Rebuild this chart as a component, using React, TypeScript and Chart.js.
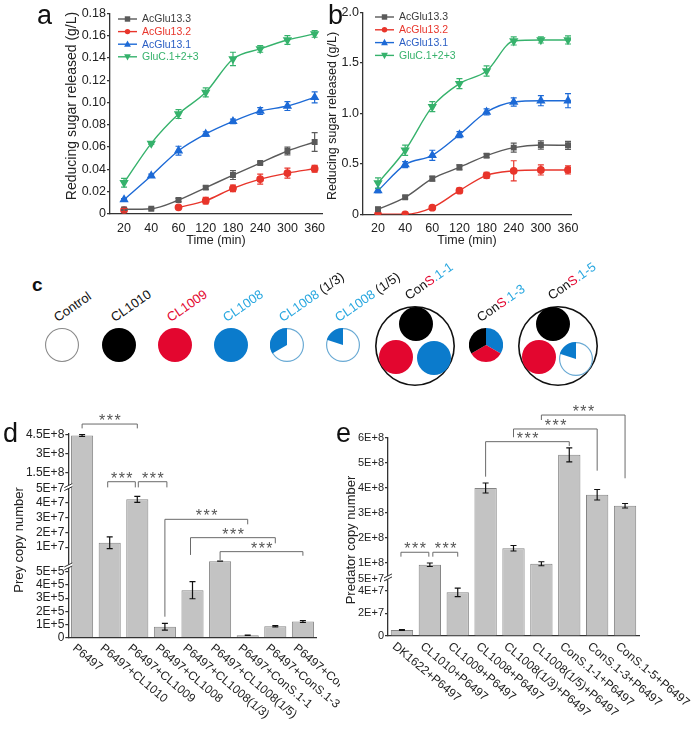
import React, { useEffect, useRef } from 'react';
import { Chart, registerables } from 'chart.js';
Chart.register(...registerables);

const FONT = 'Arial, "Liberation Sans", Helvetica, sans-serif';
Chart.defaults.font.family = FONT;
Chart.defaults.color = '#222';

// ================= Panels a / b =================
const timeLabels = ['20', '40', '60', '120', '180', '240', '300', '360'];
const seriesNames = ['AcGlu13.3', 'AcGlu13.2', 'AcGlu13.1', 'GluC.1+2+3'];

const aAcGlu133 = [0.0039, 0.0045, 0.0123, 0.0234, 0.0347, 0.0455, 0.0563, 0.0644];
const aAcGlu133Err = [0.001, 0.0008, 0.0015, 0.0015, 0.004, 0.001, 0.0035, 0.0085];
const aAcGlu132 = [0.0033, null, 0.0057, 0.0117, 0.0228, 0.0311, 0.0365, 0.0404];
const aAcGlu132Err = [0.0015, 0, 0.0008, 0.003, 0.003, 0.0045, 0.0045, 0.003];
const aAcGlu131 = [0.0126, 0.0341, 0.0566, 0.0716, 0.0829, 0.0922, 0.0967, 0.1045];
const aAcGlu131Err = [0.001, 0.0015, 0.004, 0.002, 0.002, 0.003, 0.004, 0.005];
const aGluC = [0.0278, 0.0632, 0.0895, 0.109, 0.139, 0.148, 0.156, 0.1615];
const aGluCErr = [0.004, 0.001, 0.004, 0.004, 0.006, 0.003, 0.004, 0.003];
const aYTicks = [0, 0.02, 0.04, 0.06, 0.08, 0.1, 0.12, 0.14, 0.16, 0.18];
const aYTickLabels = ['0', '0.02', '0.04', '0.06', '0.08', '0.10', '0.12', '0.14', '0.16', '0.18'];

const bAcGlu133 = [0.05, 0.168, 0.353, 0.465, 0.581, 0.66, 0.686, 0.683];
const bAcGlu133Err = [0.02, 0.015, 0.025, 0.025, 0.02, 0.045, 0.04, 0.04];
const bAcGlu132 = [0, 0, 0.066, 0.234, 0.386, 0.43, 0.439, 0.439];
const bAcGlu132Err = [0.01, 0.01, 0.01, 0.025, 0.03, 0.1, 0.05, 0.04];
const bAcGlu131 = [0.234, 0.492, 0.584, 0.789, 1.013, 1.112, 1.125, 1.125];
const bAcGlu131Err = [0.02, 0.03, 0.05, 0.03, 0.03, 0.04, 0.05, 0.07];
const bGluC = [0.31, 0.634, 1.066, 1.294, 1.419, 1.716, 1.726, 1.726];
const bGluCErr = [0.05, 0.05, 0.05, 0.05, 0.05, 0.04, 0.03, 0.04];
const bYTicks = [0, 0.5, 1.0, 1.5, 2.0];
const bYTickLabels = ['0', '0.5', '1.0', '1.5', '2.0'];

// ================= Panel d =================
const dLabels = ['P6497', 'P6497+CL1010', 'P6497+CL1009', 'P6497+CL1008', 'P6497+CL1008(1/3)', 'P6497+CL1008(1/5)', 'P6497+ConS.1-1', 'P6497+ConS.1-3', 'P6497+ConS.1-5'];
const dValues = [4.4e8, 1.3e7, 4.25e7, 8.3e4, 3.6e5, 5.1e5, 1.8e4, 8.6e4, 1.22e5];
const dErrors = [7e6, 4e6, 2e6, 2.5e4, 6.5e4, 4e3, 1.5e3, 5e3, 7e3];
const dTickValues = [0, 1e5, 2e5, 3e5, 4e5, 5e5, 1e7, 2e7, 3e7, 4e7, 5e7, 1.5e8, 3e8, 4.5e8];
const dTickLabels = ['0', '1E+5', '2E+5', '3E+5', '4E+5', '5E+5', '1E+7', '2E+7', '3E+7', '4E+7', '5E+7', '1.5E+8', '3E+8', '4.5E+8'];

// ================= Panel e =================
const eLabels = ['DK1622+P6497', 'CL1010+P6497', 'CL1009+P6497', 'CL1008+P6497', 'CL1008(1/3)+P6497', 'CL1008(1/5)+P6497', 'ConS.1-1+P6497', 'ConS.1-3+P6497', 'ConS.1-5+P6497'];
const eValues = [5.3e6, 9.3e7, 3.85e7, 4.0e8, 1.59e8, 9.7e7, 5.33e8, 3.73e8, 3.29e8];
const eErrors = [4e5, 7e6, 3.8e6, 2e7, 1.1e7, 8e6, 2.8e7, 2.1e7, 9e6];
const eTickValues = [0, 2e7, 4e7, 5e7, 1e8, 2e8, 3e8, 4e8, 5e8, 6e8];
const eTickLabels = ['0', '2E+7', '4E+7', '5E+7', '1E+8', '2E+8', '3E+8', '4E+8', '5E+8', '6E+8'];

// ================= Panel c =================
const sliceWhole = [1];
const sliceOneThird = [2, 1];
const sliceOneFifth = [4, 1];
const sliceThreeWay = [1, 1, 1];

type Seg = [number, number, number, number];
// broken axis segments: [valueLo, valueHi, unitLo, unitHi]
const dSegs: Seg[] = [[0, 5e5, 0, 5], [5e5, 5e7, 5.8, 11.32], [5e7, 4.5e8, 11.5, 15.41]];
const eSegs: Seg[] = [[0, 5e7, 0, 5], [5e7, 6e8, 5.34, 17.47]];

function toUnits(v: number, segs: Seg[]): number {
  for (const [lo, hi, u0, u1] of segs) {
    if (v <= hi) return u0 + ((v - lo) / (hi - lo)) * (u1 - u0);
  }
  const [lo, hi, u0, u1] = segs[segs.length - 1];
  return u0 + ((v - lo) / (hi - lo)) * (u1 - u0);
}

const C_RED = '#e3062f';
const C_BLUE = '#0b7bcc';
const C_CYAN = '#2aa8e0';
const C_OUT = '#6aaad4';
const NONE = 'rgba(0,0,0,0)';

const lineStyles = [
  { color: '#5a5a5a', text: '#3a3a3a', point: 'rect', radius: 3.2, rot: 0 },
  { color: '#e8352b', text: '#e8352b', point: 'circle', radius: 3.2, rot: 0 },
  { color: '#1d6ad6', text: '#2a5ec4', point: 'triangle', radius: 4, rot: 0 },
  { color: '#36b26c', text: '#36b26c', point: 'triangle', radius: 4, rot: 180 },
];

function drawMarker(ctx: CanvasRenderingContext2D, style: string, rot: number, x: number, y: number, r: number) {
  ctx.beginPath();
  if (style === 'rect') {
    ctx.rect(x - r, y - r, 2 * r, 2 * r);
  } else if (style === 'circle') {
    ctx.arc(x, y, r, 0, Math.PI * 2);
  } else {
    const s = rot === 180 ? -1 : 1;
    ctx.moveTo(x, y - s * r * 1.1);
    ctx.lineTo(x + r, y + s * r * 0.75);
    ctx.lineTo(x - r, y + s * r * 0.75);
    ctx.closePath();
  }
  ctx.fill();
}

function yTitlePlugin(t: { text: string; x: number; y: number; size: number }) {
  return {
    id: 'yTitle',
    afterDraw(chart: any) {
      const ctx = chart.ctx;
      ctx.save();
      ctx.translate(t.x, t.y);
      ctx.rotate(-Math.PI / 2);
      ctx.font = `${t.size}px ${FONT}`; ctx.fillStyle = '#222'; ctx.textAlign = 'center'; ctx.textBaseline = 'middle';
      ctx.fillText(t.text, 0, 0);
      ctx.restore();
    },
  };
}

function makeLineConfig(p: {
  series: (number | null)[][]; errors: number[][]; yTicks: number[]; yLabels: string[];
  yMax: number; xMin: number; xMax: number; W: number; H: number;
  area: { l: number; t: number; r: number; b: number };
  yTitle: { text: string; x: number; y: number; size: number };
  legend: { x: number; y: number; rowH: number; lineW: number };
}): any {
  const errorPlugin = {
    id: 'errLine',
    afterDatasetsDraw(chart: any) {
      const ctx = chart.ctx; const xs = chart.scales.x; const ys = chart.scales.y;
      ctx.save();
      p.series.forEach((vals, si) => {
        ctx.strokeStyle = lineStyles[si].color; ctx.lineWidth = 1.2;
        vals.forEach((v, i) => {
          if (v === null) return;
          const e = p.errors[si][i];
          const x = xs.getPixelForValue(i);
          const y1 = ys.getPixelForValue(v + e); const y2 = ys.getPixelForValue(Math.max(v - e, 0));
          ctx.beginPath();
          ctx.moveTo(x, y1); ctx.lineTo(x, y2);
          ctx.moveTo(x - 3, y1); ctx.lineTo(x + 3, y1);
          ctx.moveTo(x - 3, y2); ctx.lineTo(x + 3, y2);
          ctx.stroke();
        });
      });
      ctx.restore();
    },
  };
  const legendPlugin = {
    id: 'lineLegend',
    afterDraw(chart: any) {
      const ctx = chart.ctx; const L = p.legend;
      ctx.save();
      ctx.font = `10.5px ${FONT}`; ctx.textBaseline = 'middle'; ctx.textAlign = 'left';
      seriesNames.forEach((n, i) => {
        const st = lineStyles[i]; const y = L.y + i * L.rowH;
        ctx.strokeStyle = st.color; ctx.fillStyle = st.color; ctx.lineWidth = 1.4;
        ctx.beginPath(); ctx.moveTo(L.x, y); ctx.lineTo(L.x + L.lineW, y); ctx.stroke();
        drawMarker(ctx, st.point, st.rot, L.x + L.lineW / 2, y, st.radius * 0.85);
        ctx.fillStyle = st.text;
        ctx.fillText(n, L.x + L.lineW + 5, y + 0.5);
      });
      ctx.restore();
    },
  };
  return {
    type: 'line',
    data: {
      datasets: p.series.map((vals, si) => ({
        label: seriesNames[si],
        data: vals.map((v, i) => ({ x: i, y: v })),
        borderColor: lineStyles[si].color,
        backgroundColor: lineStyles[si].color,
        pointBackgroundColor: lineStyles[si].color,
        pointBorderColor: lineStyles[si].color,
        borderWidth: 1.4,
        pointStyle: lineStyles[si].point,
        pointRadius: lineStyles[si].radius,
        pointRotation: lineStyles[si].rot,
        cubicInterpolationMode: 'monotone',
        spanGaps: false,
      })),
    },
    options: {
      responsive: false, animation: false, events: [],
      layout: { padding: { left: 0, top: p.area.t, right: p.W - p.area.r, bottom: 0 } },
      plugins: { legend: { display: false }, tooltip: { enabled: false } },
      scales: {
        x: {
          type: 'linear', min: p.xMin, max: p.xMax,
          afterBuildTicks: (s: any) => { s.ticks = timeLabels.map((_, i) => ({ value: i })); },
          afterFit: (s: any) => { s.height = p.H - p.area.b; },
          ticks: { callback: (_v: any, i: number) => timeLabels[i], font: { size: 12.5 }, color: '#222', padding: 7, autoSkip: false, maxRotation: 0 },
          grid: { display: false, drawTicks: false },
          border: { display: true, color: '#333', width: 1.3 },
          title: { display: true, text: 'Time (min)', font: { size: 12.5 }, color: '#222', padding: { top: 0, bottom: 14 } },
        },
        y: {
          type: 'linear', min: 0, max: p.yMax,
          afterBuildTicks: (s: any) => { s.ticks = p.yTicks.map((v) => ({ value: v })); },
          afterFit: (s: any) => { s.width = p.area.l; },
          ticks: { callback: (_v: any, i: number) => p.yLabels[i], font: { size: 12.5 }, color: '#222', padding: 1 },
          grid: { display: true, drawOnChartArea: false, drawTicks: true, tickLength: 3, color: '#333', lineWidth: 1.2 },
          border: { display: true, color: '#333', width: 1.3 },
          title: { display: false },
        },
      },
    },
    plugins: [errorPlugin, legendPlugin, yTitlePlugin(p.yTitle)],
  };
}

type Bracket = { a: number; b: number; y: number; la: number; lb: number; dxa: number; dxb: number };

const dBrackets: Bracket[] = [
  { a: 0, b: 2, y: 16.19, la: 15.86, lb: 15.86, dxa: 0, dxb: 0 },
  { a: 1, b: 2, y: 11.82, la: 11.39, lb: 11.39, dxa: -2, dxb: -2 },
  { a: 2, b: 3, y: 11.82, la: 11.39, lb: 11.39, dxa: 1, dxb: 2 },
  { a: 3, b: 6, y: 8.97, la: 1.59, lb: 8.59, dxa: 0, dxb: 0 },
  { a: 4, b: 7, y: 7.58, la: 6.27, lb: 7.15, dxa: -2, dxb: 0 },
  { a: 5, b: 8, y: 6.52, la: 5.89, lb: 6.21, dxa: 0, dxb: 0 },
];
const eBrackets: Bracket[] = [
  { a: 0, b: 1, y: 7.39, la: 7.0, lb: 7.0, dxa: -1, dxb: -1 },
  { a: 1, b: 2, y: 7.39, la: 7.0, lb: 7.0, dxa: 3, dxb: 0 },
  { a: 3, b: 6, y: 17.15, la: 14.06, lb: 16.77, dxa: 0, dxb: 0 },
  { a: 4, b: 7, y: 18.27, la: 17.54, lb: 14.59, dxa: 0, dxb: 0 },
  { a: 5, b: 8, y: 19.5, la: 19.06, lb: 13.92, dxa: 0, dxb: 0 },
];

function makeBarConfig(p: {
  labels: string[]; values: number[]; errors: number[]; segs: Seg[]; tickValues: number[]; tickLabels: string[];
  tickSize: number; yMax: number; W: number; H: number; area: { l: number; t: number; r: number; b: number };
  yTitle: { text: string; x: number; y: number; size: number }; brackets: Bracket[]; breaks: number[];
}): any {
  const units = p.values.map((v) => toUnits(v, p.segs));
  const overlay = {
    id: 'barOverlay',
    afterDatasetsDraw(chart: any) {
      const ctx = chart.ctx; const xs = chart.scales.x; const ys = chart.scales.y;
      ctx.save();
      ctx.strokeStyle = '#111'; ctx.lineWidth = 1.2;
      p.values.forEach((v, i) => {
        const x = xs.getPixelForTick(i);
        const y1 = ys.getPixelForValue(toUnits(v + p.errors[i], p.segs));
        const y2 = ys.getPixelForValue(toUnits(v - p.errors[i], p.segs));
        ctx.beginPath();
        ctx.moveTo(x, y1); ctx.lineTo(x, y2);
        ctx.moveTo(x - 3, y1); ctx.lineTo(x + 3, y1);
        ctx.moveTo(x - 3, y2); ctx.lineTo(x + 3, y2);
        ctx.stroke();
      });
      ctx.restore();
    },
    afterDraw(chart: any) {
      const ctx = chart.ctx; const xs = chart.scales.x; const ys = chart.scales.y; const ca = chart.chartArea;
      ctx.save();
      p.breaks.forEach((u) => {
        const y = ys.getPixelForValue(u); const x = ca.left;
        ctx.fillStyle = '#fff';
        ctx.beginPath();
        ctx.moveTo(x - 4, y + 3.5); ctx.lineTo(x + 4, y - 0.5); ctx.lineTo(x + 4, y - 3.5); ctx.lineTo(x - 4, y + 0.5); ctx.closePath();
        ctx.fill();
        ctx.strokeStyle = '#333'; ctx.lineWidth = 1;
        ctx.beginPath();
        ctx.moveTo(x - 4, y + 3.5); ctx.lineTo(x + 4, y - 0.5);
        ctx.moveTo(x - 4, y + 0.5); ctx.lineTo(x + 4, y - 3.5);
        ctx.stroke();
      });
      ctx.strokeStyle = '#6a6a6a'; ctx.lineWidth = 1;
      p.brackets.forEach((br) => {
        const xa = xs.getPixelForTick(br.a) + br.dxa; const xb = xs.getPixelForTick(br.b) + br.dxb;
        const y = ys.getPixelForValue(br.y);
        ctx.beginPath();
        ctx.moveTo(xa, ys.getPixelForValue(br.la)); ctx.lineTo(xa, y); ctx.lineTo(xb, y); ctx.lineTo(xb, ys.getPixelForValue(br.lb));
        ctx.stroke();
        ctx.fillStyle = '#555'; ctx.font = `16px ${FONT}`; ctx.textAlign = 'center'; ctx.textBaseline = 'alphabetic';
        (ctx as any).letterSpacing = '1.5px';
        ctx.fillText('***', (xa + xb) / 2 + 1, y + 2);
        (ctx as any).letterSpacing = '0px';
      });
      ctx.fillStyle = '#222'; ctx.font = `12px ${FONT}`; ctx.textAlign = 'left'; ctx.textBaseline = 'middle';
      p.labels.forEach((l, i) => {
        const x = xs.getPixelForTick(i);
        ctx.save();
        ctx.translate(x - 8, ca.bottom + 9);
        ctx.rotate((40 * Math.PI) / 180);
        ctx.fillText(l, 0, 0);
        ctx.restore();
      });
      ctx.restore();
    },
  };
  return {
    type: 'bar',
    data: {
      labels: p.labels,
      datasets: [{
        data: units, backgroundColor: '#c3c3c3', borderColor: '#858585', borderWidth: 1,
        barPercentage: 0.8, categoryPercentage: 1,
      }],
    },
    options: {
      responsive: false, animation: false, events: [],
      layout: { padding: { left: 0, top: p.area.t, right: p.W - p.area.r, bottom: 0 } },
      plugins: { legend: { display: false }, tooltip: { enabled: false } },
      scales: {
        x: {
          type: 'category', afterFit: (s: any) => { s.height = p.H - p.area.b; },
          ticks: { display: false }, grid: { display: false, drawTicks: false },
          border: { display: true, color: '#333', width: 1.3 },
        },
        y: {
          type: 'linear', min: 0, max: p.yMax,
          afterBuildTicks: (s: any) => { s.ticks = p.tickValues.map((v) => ({ value: toUnits(v, p.segs) })); },
          afterFit: (s: any) => { s.width = p.area.l; },
          ticks: { callback: (_v: any, i: number) => p.tickLabels[i], font: { size: p.tickSize }, color: '#222', padding: 1, autoSkip: false },
          grid: { display: true, drawOnChartArea: false, drawTicks: true, tickLength: 3, color: '#333', lineWidth: 1.2 },
          border: { display: true, color: '#333', width: 1.3 },
          title: { display: false },
        },
      },
    },
    plugins: [overlay, yTitlePlugin(p.yTitle)],
  };
}

function ChartCanvas({ make, left, top, width, height }: { make: () => any; left: number; top: number; width: number; height: number }) {
  const ref = useRef<HTMLCanvasElement>(null);
  useEffect(() => {
    const chart = new Chart(ref.current as HTMLCanvasElement, make());
    return () => chart.destroy();
  }, []);
  return <canvas ref={ref} width={width} height={height} style={{ position: 'absolute', left, top, width, height }} />;
}

// a circle in panel c: pie slices (optional) plus an optional thin outline ring
type PieSpec = { slices: number[] | null; colors: string[]; ring: { color: string; width: number } | null; cx: number; cy: number; r: number };

function Pie({ spec }: { spec: PieSpec }) {
  const S = Math.round(2 * spec.r);
  const left = Math.round(spec.cx - S / 2), top = Math.round(spec.cy - S / 2);
  const makePie = () => ({
    type: 'pie',
    data: { datasets: [{ data: spec.slices, backgroundColor: spec.colors, borderWidth: 0, hoverOffset: 0, offset: 0 }] },
    options: { responsive: false, animation: false, events: [], layout: { padding: 0 }, plugins: { legend: { display: false }, tooltip: { enabled: false } } },
  });
  const makeRing = () => ({
    type: 'doughnut',
    data: { datasets: [{ data: sliceWhole, backgroundColor: [spec.ring!.color], borderWidth: 0, hoverOffset: 0, offset: 0 }] },
    options: {
      responsive: false, animation: false, events: [], cutout: `${(1 - spec.ring!.width / spec.r) * 100}%`,
      layout: { padding: 0 }, plugins: { legend: { display: false }, tooltip: { enabled: false } },
    },
  });
  return (
    <>
      {spec.ring ? <ChartCanvas make={makeRing} left={left} top={top} width={S} height={S} /> : null}
      {spec.slices ? <ChartCanvas make={makePie} left={left} top={top} width={S} height={S} /> : null}
    </>
  );
}

const pies: PieSpec[] = [
  { slices: null, colors: [], ring: { color: '#8a8a8a', width: 1.1 }, cx: 62, cy: 345, r: 17 },
  { slices: sliceWhole, colors: ['#000'], ring: null, cx: 118.5, cy: 345, r: 17 },
  { slices: sliceWhole, colors: [C_RED], ring: null, cx: 174.5, cy: 345, r: 17 },
  { slices: sliceWhole, colors: [C_BLUE], ring: null, cx: 230.5, cy: 345, r: 17 },
  { slices: sliceOneThird, colors: [NONE, C_BLUE], ring: { color: C_OUT, width: 1.2 }, cx: 287, cy: 345, r: 17 },
  { slices: sliceOneFifth, colors: [NONE, C_BLUE], ring: { color: C_OUT, width: 1.2 }, cx: 343, cy: 345, r: 17 },
  { slices: null, colors: [], ring: { color: '#111', width: 1.6 }, cx: 415, cy: 345.5, r: 40 },
  { slices: sliceWhole, colors: ['#000'], ring: null, cx: 415.5, cy: 324, r: 17 },
  { slices: sliceWhole, colors: [C_RED], ring: null, cx: 396, cy: 357, r: 17 },
  { slices: sliceWhole, colors: [C_BLUE], ring: null, cx: 434, cy: 357.5, r: 17 },
  { slices: sliceThreeWay, colors: [C_BLUE, C_RED, '#000'], ring: null, cx: 486, cy: 345, r: 17 },
  { slices: null, colors: [], ring: { color: '#111', width: 1.6 }, cx: 558, cy: 345.5, r: 40 },
  { slices: sliceWhole, colors: ['#000'], ring: null, cx: 553, cy: 324, r: 17 },
  { slices: sliceWhole, colors: [C_RED], ring: null, cx: 538.5, cy: 357, r: 17 },
  { slices: sliceOneFifth, colors: [NONE, C_BLUE], ring: { color: C_OUT, width: 1.2 }, cx: 576, cy: 358.5, r: 17 },
];

const cLabels: { x: number; y: number; parts: [string, string][] }[] = [
  { x: 59, y: 324, parts: [['Control', '#111']] },
  { x: 116, y: 324, parts: [['CL1010', '#111']] },
  { x: 172, y: 324, parts: [['CL1009', C_RED]] },
  { x: 228, y: 324, parts: [['CL1008', C_CYAN]] },
  { x: 284, y: 324, parts: [['CL1008', C_CYAN], [' (1/3)', '#111']] },
  { x: 340, y: 324, parts: [['CL1008', C_CYAN], [' (1/5)', '#111']] },
  { x: 410, y: 302, parts: [['Con', '#111'], ['S', C_RED], ['.1-1', C_CYAN]] },
  { x: 482, y: 324, parts: [['Con', '#111'], ['S', C_RED], ['.1-3', C_CYAN]] },
  { x: 553, y: 302, parts: [['Con', '#111'], ['S', C_RED], ['.1-5', C_CYAN]] },
];

const panelLetters: { t: string; x: number; y: number; size: number; bold: boolean }[] = [
  { t: 'a', x: 37, y: 25, size: 27, bold: false },
  { t: 'b', x: 328, y: 25, size: 27, bold: false },
  { t: 'c', x: 32, y: 291, size: 19, bold: true },
  { t: 'd', x: 3, y: 443, size: 27, bold: false },
  { t: 'e', x: 336, y: 443, size: 27, bold: false },
];

export default function App() {
  const aW = 345, aH = 262, bW = 395, bH = 262;
  return (
    <div style={{ position: 'absolute', left: 0, top: 0, width: 695, height: 729, background: '#fff', overflow: 'hidden', fontFamily: FONT }}>
      <ChartCanvas left={0} top={0} width={aW} height={aH} make={() => makeLineConfig({
        series: [aAcGlu133, aAcGlu132, aAcGlu131, aGluC], errors: [aAcGlu133Err, aAcGlu132Err, aAcGlu131Err, aGluCErr],
        yTicks: aYTicks, yLabels: aYTickLabels, yMax: 0.18, xMin: -0.516, xMax: 7.27, W: aW, H: aH,
        area: { l: 110, t: 13.3, r: 322, b: 213.7 },
        yTitle: { text: 'Reducing sugar released (g/L)', x: 72, y: 106, size: 14 },
        legend: { x: 118, y: 19, rowH: 12.6, lineW: 19 },
      })} />
      <ChartCanvas left={300} top={0} width={bW} height={bH} make={() => makeLineConfig({
        series: [bAcGlu133, bAcGlu132, bAcGlu131, bGluC], errors: [bAcGlu133Err, bAcGlu132Err, bAcGlu131Err, bGluCErr],
        yTicks: bYTicks, yLabels: bYTickLabels, yMax: 2.0, xMin: -0.553, xMax: 7.11, W: bW, H: bH,
        area: { l: 63, t: 12.3, r: 271, b: 214.3 },
        yTitle: { text: 'Reducing sugar released (g/L)', x: 33, y: 116, size: 12.5 },
        legend: { x: 75, y: 17, rowH: 12.8, lineW: 19 },
      })} />
      {pies.map((s, i) => <Pie key={i} spec={s} />)}
      {cLabels.map((l, i) => (
        <span key={i} style={{ position: 'absolute', left: l.x, top: l.y - 13, lineHeight: '13px', fontSize: 13, whiteSpace: 'nowrap', transform: 'rotate(-35deg)', transformOrigin: '0 100%' }}>
          {l.parts.map(([t, c], j) => <span key={j} style={{ color: c }}>{t}</span>)}
        </span>
      ))}
      <ChartCanvas left={0} top={395} width={340} height={334} make={() => makeBarConfig({
        labels: dLabels, values: dValues, errors: dErrors, segs: dSegs, tickValues: dTickValues, tickLabels: dTickLabels, tickSize: 12,
        yMax: 15.45, W: 340, H: 334, area: { l: 68.3, t: 38.8, r: 316.7, b: 242.7 },
        yTitle: { text: 'Prey copy number', x: 19, y: 145, size: 13 },
        brackets: dBrackets, breaks: [5.4, 11.41],
      })} />
      <ChartCanvas left={340} top={395} width={355} height={334} make={() => makeBarConfig({
        labels: eLabels, values: eValues, errors: eErrors, segs: eSegs, tickValues: eTickValues, tickLabels: eTickLabels, tickSize: 11,
        yMax: 17.5, W: 355, H: 334, area: { l: 48, t: 42.7, r: 299, b: 241 },
        yTitle: { text: 'Predator copy number', x: 11, y: 145, size: 13 },
        brackets: eBrackets, breaks: [5.17],
      })} />
      {panelLetters.map((p, i) => (
        <span key={i} style={{ position: 'absolute', left: p.x, top: p.y - Math.round(p.size * 0.85), fontSize: p.size, lineHeight: `${p.size}px`, fontWeight: p.bold ? 'bold' : 'normal', color: '#111' }}>{p.t}</span>
      ))}
    </div>
  );
}
